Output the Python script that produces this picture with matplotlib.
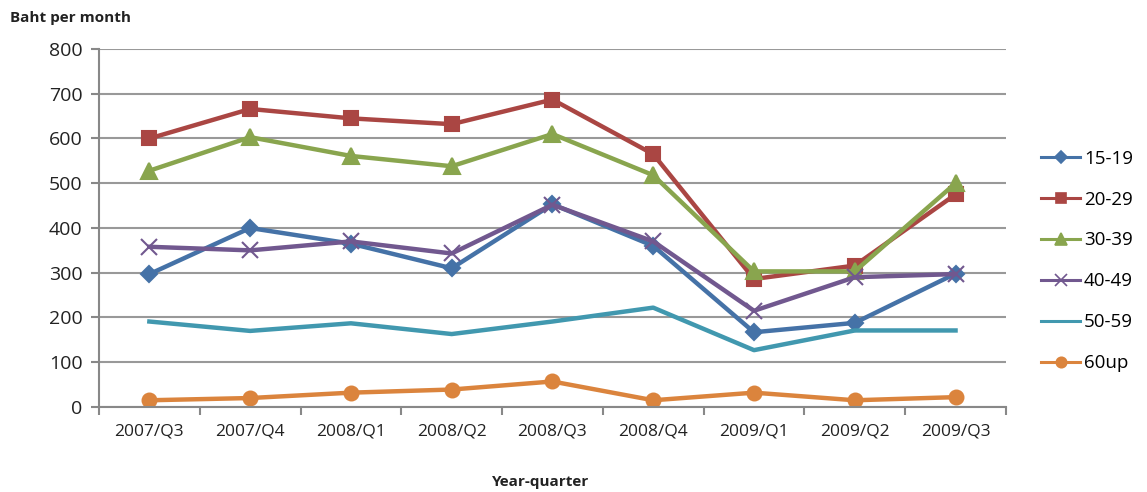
import matplotlib.pyplot as plt
from matplotlib.lines import Line2D
import numpy as np

# quarters on the x axis
quarters = ['2007/Q3', '2007/Q4', '2008/Q1', '2008/Q2', '2008/Q3',
            '2008/Q4', '2009/Q1', '2009/Q2', '2009/Q3']

# baht per month, by age group
age_15_19 = [297, 400, 365, 310, 453, 360, 167, 188, 298]
age_20_29 = [600, 666, 645, 632, 687, 565, 286, 316, 475]
age_30_39 = [528, 603, 561, 538, 610, 518, 303, 303, 500]
age_40_49 = [358, 350, 370, 343, 452, 370, 215, 290, 297]
age_50_59 = [191, 170, 187, 163, 191, 222, 127, 171, 171]
age_60up = [15, 20, 32, 39, 57, 15, 32, 15, 22]

plt.rcParams['font.family'] = ['Open Sans', 'DejaVu Sans']

fig = plt.figure(figsize=(11.47, 4.92), dpi=100)
ax = fig.add_axes([0.0863, 0.1728, 0.7907, 0.7276])

x = np.arange(len(quarters))
lw = 3.2
series = [
    (age_15_19, '#4572A7', 'D', 8, '15-19'),
    (age_20_29, '#AA4643', 's', 10, '20-29'),
    (age_30_39, '#89A54E', '^', 11, '30-39'),
    (age_40_49, '#71588F', 'x', 11, '40-49'),
    (age_50_59, '#4198AF', None, 0, '50-59'),
    (age_60up, '#DB843D', 'o', 10, '60up'),
]
handles = []
for vals, col, mk, ms, name in series:
    ax.plot(x, vals, color=col, lw=lw, marker=mk, ms=ms, mew=1.5)
    # thinner lines and smaller markers in the legend, like the original
    handles.append(Line2D([], [], color=col, lw=2.2, marker=mk, ms=ms * 0.75, mew=1.2))

ax.set_ylim(0, 800)
ax.set_yticks(range(0, 801, 100))
ax.set_xlim(-0.5, len(quarters) - 0.5)
ax.set_xticks(x)
ax.set_xticklabels(quarters)
ax.set_xticks(np.arange(-0.5, len(quarters)), minor=True)
ax.tick_params(axis='x', which='major', length=0, pad=12, labelsize=12.5, colors='#222222')
ax.tick_params(axis='x', which='minor', length=6, color='#888888', width=1.5)
ax.tick_params(axis='y', length=6, color='#888888', width=1.5, labelsize=14, colors='#222222', pad=6)

ax.grid(axis='y', color='#999999', lw=1.5)
ax.set_axisbelow(True)
for s in ['top', 'right']:
    ax.spines[s].set_visible(False)
for s in ['left', 'bottom']:
    ax.spines[s].set_color('#888888')
    ax.spines[s].set_linewidth(1.5)

fig.text(0.009, 0.963, 'Baht per month', fontsize=11, fontweight='bold', color='#222222', va='center')
fig.text(0.471, 0.02, 'Year-quarter', fontsize=11, fontweight='bold', color='#222222', ha='center', va='center')

ax.legend(handles, [s[4] for s in series], loc='center left',
          bbox_to_anchor=(1.02, 0.408), frameon=False,
          fontsize=13.5, handlelength=2.1, labelspacing=1.22, handletextpad=0.2)

fig.savefig('out.png', dpi=100)
